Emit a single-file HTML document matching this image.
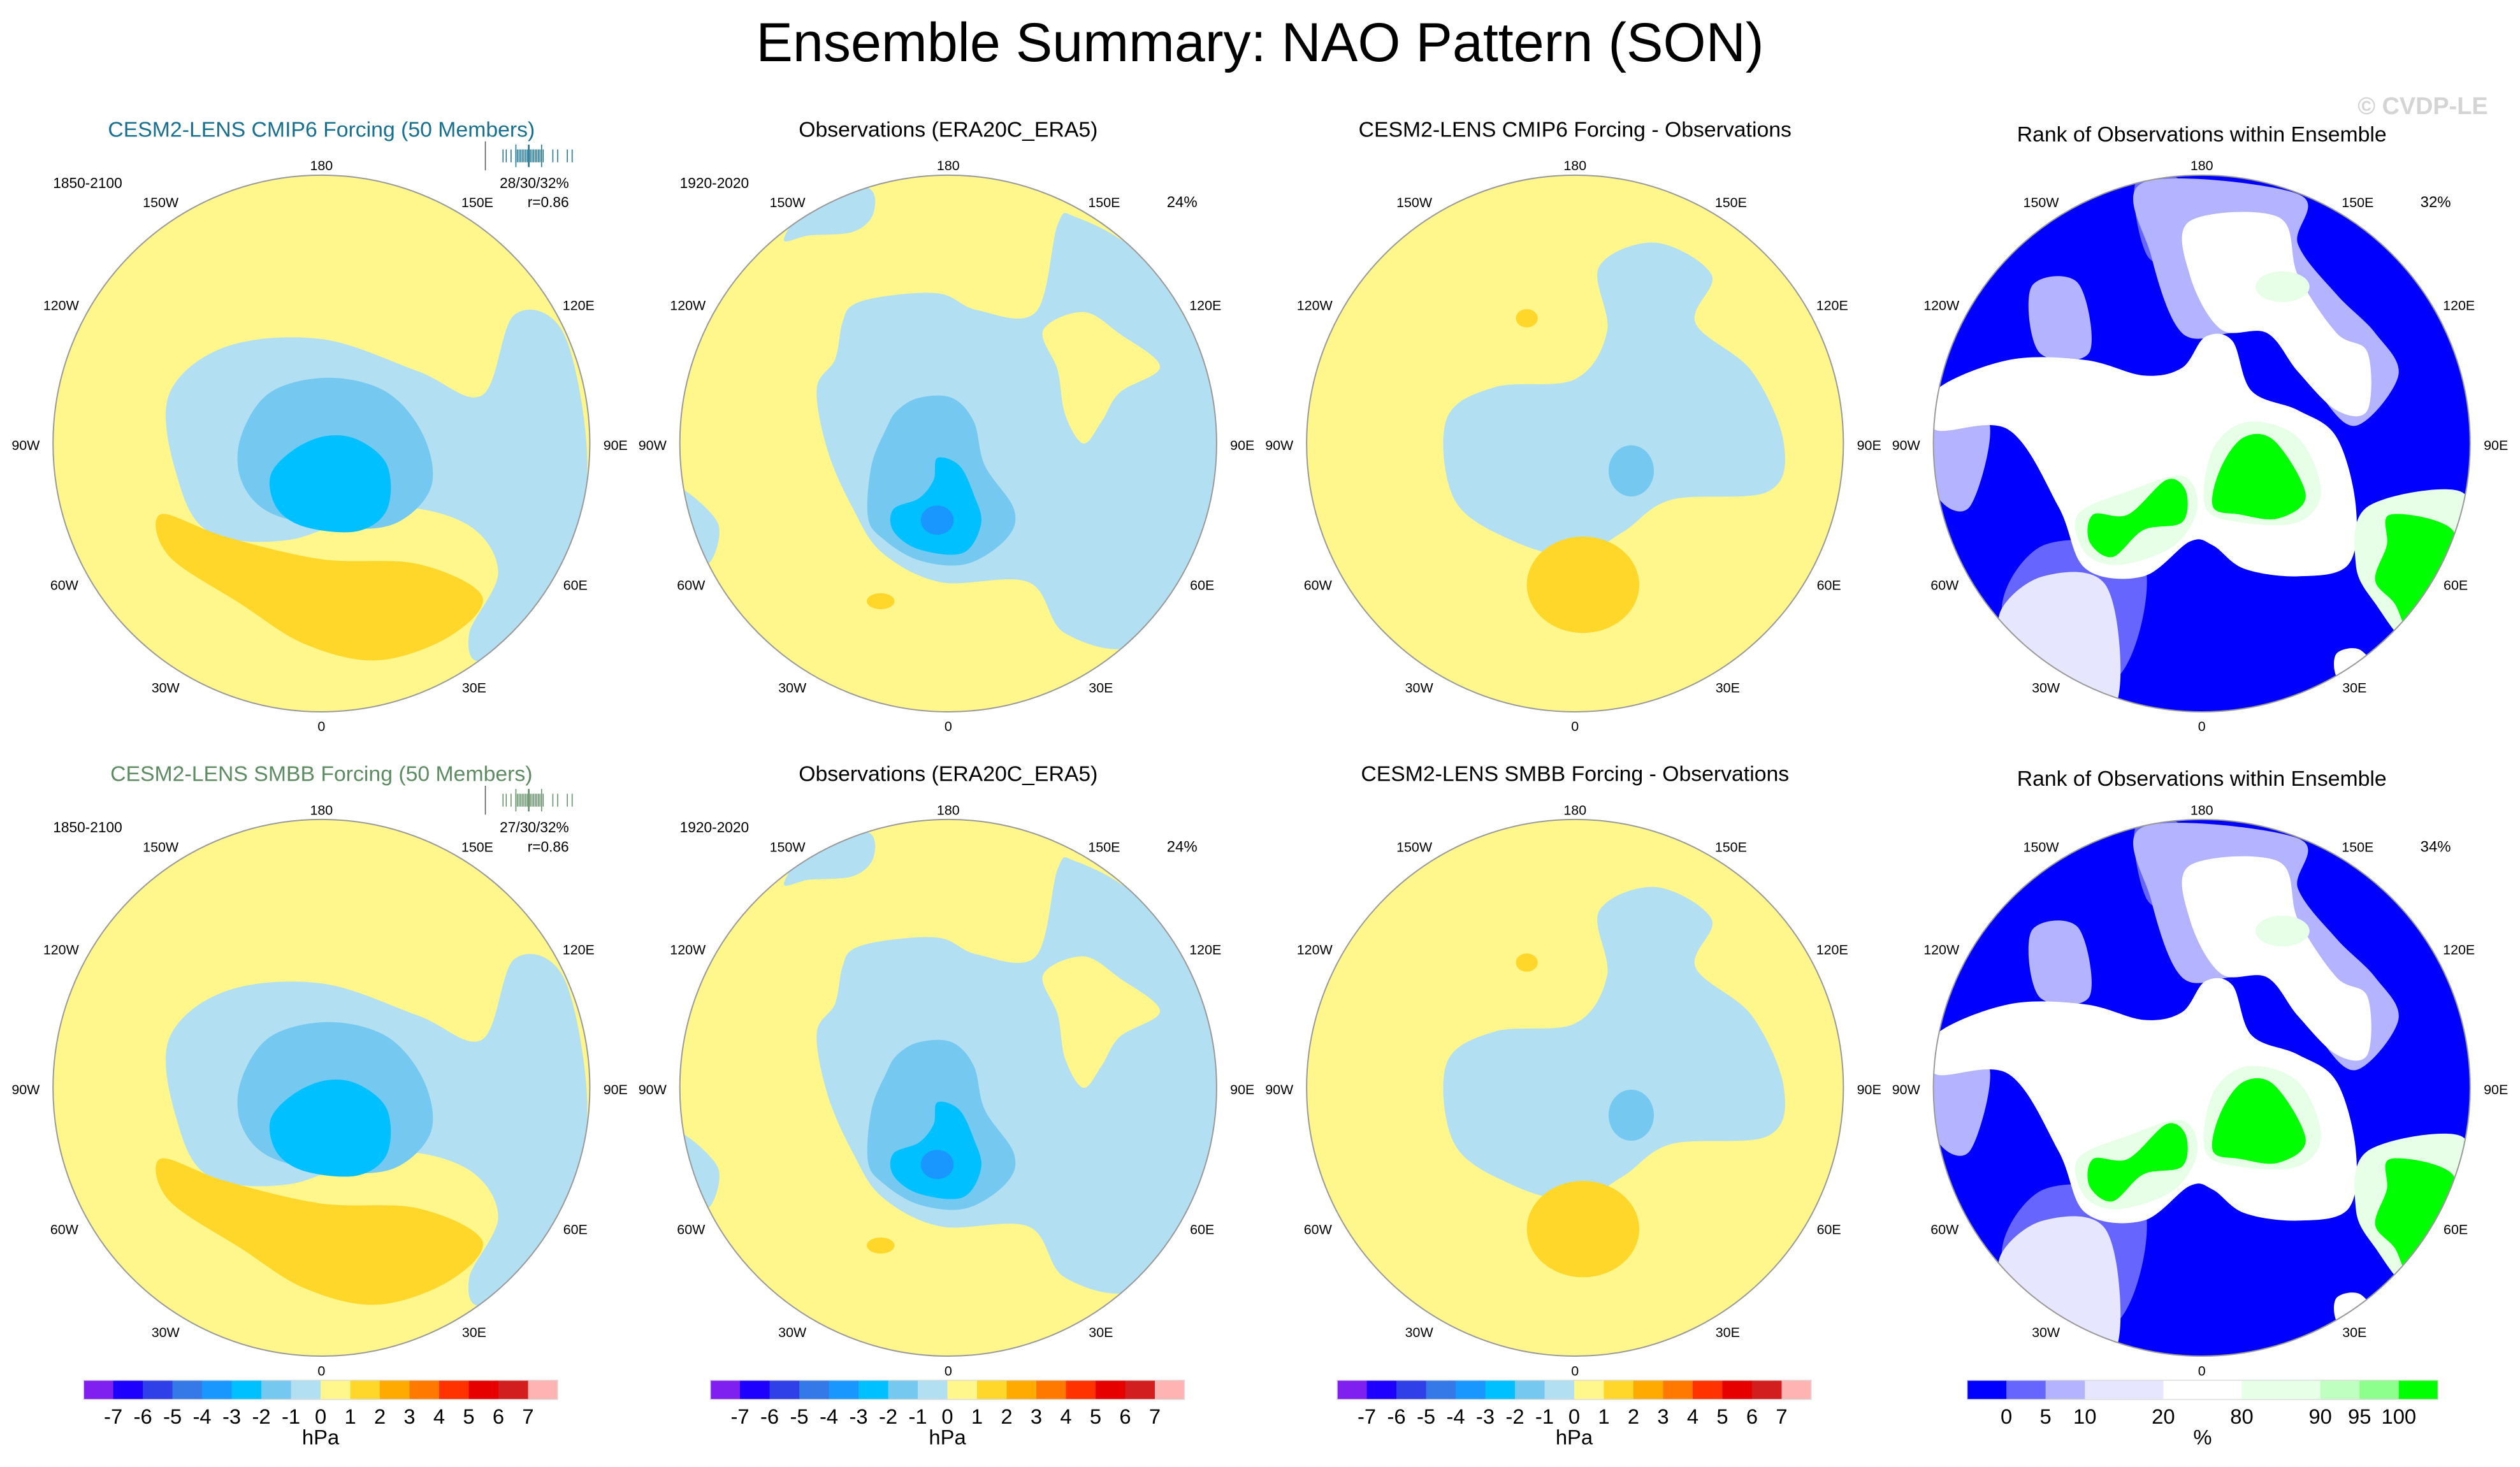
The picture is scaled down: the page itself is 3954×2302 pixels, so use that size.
<!DOCTYPE html>
<html><head><meta charset="utf-8"><style>
html,body{margin:0;padding:0;background:#fff;}
svg{display:block;font-family:"Liberation Sans",sans-serif;}
</style></head><body>
<svg id="fig" width="3954" height="2302" viewBox="0 0 1568 913" preserveAspectRatio="none" xmlns="http://www.w3.org/2000/svg">
<text x="784" y="38" font-size="34.2" text-anchor="middle">Ensemble Summary: NAO Pattern (SON)</text>
<text x="1548" y="71" font-size="15" font-weight="bold" fill="#d4d4d4" text-anchor="end">© CVDP-LE</text>
<g id="panels"></g>
</svg>
<script>
// colour-bar data
const pslLabels = ["-7","-6","-5","-4","-3","-2","-1","0","1","2","3","4","5","6","7"];
const pslColors = ["#8020F0","#1E00FF","#3040E8","#3578E8","#1A96FF","#00C0FF","#75C8F0","#B3DFF2","#FFF68C","#FFD62A","#FFAA00","#FF7800","#FF3200","#E60000","#D21E1E","#FFB3B3"];
const rankLabels = ["0","5","10","20","80","90","95","100"];
const rankColors = ["#0000FF","#6666FF","#B3B3FF","#E6E6FF","#FFFFFF","#E6FFE6","#BFFFBF","#8CFF8C","#00FF00"];
const rankBoxWeights = [1,1,1,2,2,2,1,1,1];

const NS="http://www.w3.org/2000/svg";
const root=document.getElementById('panels');
function mk(tag,attrs,parent){const e=document.createElementNS(NS,tag);for(const k in attrs)e.setAttribute(k,attrs[k]);(parent||root).appendChild(e);return e;}
function smooth(pts){let d="";const n=pts.length;for(let i=0;i<n;i++){const p0=pts[(i-1+n)%n],p1=pts[i],p2=pts[(i+1)%n],p3=pts[(i+2)%n];if(i===0)d+="M"+p1[0]+","+p1[1];const c1=[p1[0]+(p2[0]-p0[0])/6,p1[1]+(p2[1]-p0[1])/6],c2=[p2[0]-(p3[0]-p1[0])/6,p2[1]-(p3[1]-p1[1])/6];d+="C"+c1+" "+c2+" "+p2;}return d+"Z";}
const P4=(pts)=>pts.map(p=>[(p[0]-751)*1.0576+780,(p[1]-736)*1.0576+780]);
const shapesModel=[
 {c:"#B3DFF2",p:[[362,648],[516,516],[780,494],[1044,582],[1220,648],[1308,428],[1440,472],[1506,780],[1484,1044],[1396,1220],[1220,1374],[1185,1299],[1264,1132],[1176,1000],[956,956],[692,1044],[472,1022],[384,868]]},
 {c:"#75C8F0",p:[[560,760],[640,640],[800,600],[960,640],[1060,760],[1080,900],[980,1000],[820,1010],[640,970],[560,880]]},
 {c:"#00C0FF",p:[[640,870],[700,800],[790,760],[880,770],[960,840],[960,960],[880,1020],[740,1010],[660,960]]},
 {c:"#FFD62A",p:[[340,974],[516,1035],[780,1097],[1044,1110],[1220,1198],[1132,1308],[934,1374],[736,1330],[560,1220],[362,1088]]}];
const shapesObs=[
 {c:"#B3DFF2",p:[[490,450],[520,400],[620,375],[760,370],[860,415],[1020,420],[1080,180],[1130,160],[1300,260],[1450,480],[1530,780],[1460,1100],[1300,1330],[1100,1300],[1000,1160],[760,1160],[600,1080],[520,960],[450,800],[420,630],[470,550]]},
 {c:"#B3DFF2",p:[[420,100],[560,80],[575,150],[520,200],[400,210],[330,220]]},
 {c:"#B3DFF2",p:[[40,900],[150,1000],[120,1110],[60,1000]]},
 {c:"#FFF68C",p:[[1040,470],[1150,420],[1250,480],[1360,570],[1250,640],[1200,720],[1150,780],[1100,700],[1080,580]]},
 {c:"#75C8F0",p:[[640,690],[700,655],[790,655],[850,720],[880,840],[960,960],[940,1040],[830,1110],[700,1100],[600,1040],[560,980],[570,840],[610,740]]},
 {c:"#00C0FF",p:[[750,820],[810,840],[850,920],[870,1000],[820,1080],[700,1070],[630,1020],[630,960],[700,930],[740,880]]},
 {c:"#1A96FF",e:[750,990,45,40]},
 {c:"#FFD62A",e:[595,1212,38,22]}];
const shapesDiff=[
 {c:"#B3DFF2",p:[[428,714],[560,626],[780,604],[868,472],[846,296],[1000,230],[1154,318],[1110,450],[1264,582],[1352,780],[1308,912],[1044,934],[912,1022],[780,1088],[604,1044],[450,934]]},
 {c:"#75C8F0",e:[934,855,62,70]},
 {c:"#FFD62A",e:[802,1167,154,132]},
 {c:"#FFD62A",e:[648,437,30,25]}];
const shapesRank=[
 {c:"#6666FF",p:P4([[580,60],[700,60],[700,250],[610,250]])},
 {c:"#B3B3FF",p:P4([[600,60],[1000,90],[1000,220],[1100,350],[1200,450],[1260,560],[1150,690],[1050,600],[950,450],[830,450],[700,450],[620,250]])},
 {c:"#B3B3FF",p:P4([[310,330],[430,320],[460,500],[330,500]])},
 {c:"#6666FF",p:P4([[340,1000],[600,1040],[520,1350],[240,1200]])},
 {c:"#B3B3FF",p:P4([[60,660],[200,680],[150,900],[60,860]])},
 {c:"#E6E6FF",p:P4([[230,1170],[340,1080],[500,1100],[540,1350],[480,1480],[330,1380],[250,1280]])},
 {c:"#FFFFFF",p:P4([[60,600],[250,520],[450,520],[600,560],[700,540],[760,460],[830,470],[880,600],[1000,650],[1100,720],[1150,900],[1130,1050],[1000,1080],[860,1060],[780,1000],[720,990],[600,1080],[450,1060],[380,900],[250,700],[60,700]])},
 {c:"#FFFFFF",p:P4([[720,160],[950,150],[1000,300],[1100,450],[1180,500],[1180,650],[1100,650],[1000,550],[920,450],[800,440],[720,300]])},
 {c:"#E6FFE6",e:P4([[960,330]])[0].concat([74,42])},
 {c:"#E6FFE6",p:P4([[430,920],[560,860],[700,820],[740,900],[680,1000],[540,1050],[450,1020]])},
 {c:"#E6FFE6",p:P4([[780,750],[870,680],[1000,720],[1060,860],[1000,940],[850,940],[760,900]])},
 {c:"#00FF00",p:P4([[470,920],[560,920],[660,830],[710,860],[700,940],[600,960],[520,1030],[460,990]])},
 {c:"#00FF00",p:P4([[800,800],[860,720],[940,730],[1020,870],[950,930],[850,920],[780,900]])},
 {c:"#E6FFE6",p:P4([[1180,900],[1420,860],[1440,1000],[1390,1150],[1300,1260],[1200,1150],[1150,1050]])},
 {c:"#00FF00",p:P4([[1240,920],[1400,960],[1390,1100],[1300,1230],[1250,1150],[1200,1090],[1230,1000]])},
 {c:"#FFFFFF",p:P4([[1100,1280],[1160,1270],[1200,1330],[1150,1370],[1100,1340]])}];

const colsX=[200,590,980,1370], rowsY=[276,677], R=167;
const titles=[["CESM2-LENS CMIP6 Forcing (50 Members)","Observations (ERA20C_ERA5)","CESM2-LENS CMIP6 Forcing - Observations","Rank of Observations within Ensemble"],
 ["CESM2-LENS SMBB Forcing (50 Members)","Observations (ERA20C_ERA5)","CESM2-LENS SMBB Forcing - Observations","Rank of Observations within Ensemble"]];
const titleColors=[["#17708F","#000","#000","#000"],["#5E8C62","#000","#000","#000"]];
const lonLabels=[["180",0,-173],["150W",-100,-150],["150E",97,-150],["120W",-162,-86],["120E",160,-86],["90W",-184,1],["90E",183,1],["60W",-160,88],["60E",158,88],["30W",-97,152],["30E",95,152],["0",0,176]];
const shapeSets=[shapesModel,shapesObs,shapesDiff,shapesRank];
const bgs=["#FFF68C","#FFF68C","#FFF68C","#0000FF"];

for(let r=0;r<2;r++)for(let c=0;c<4;c++){
 const cx=colsX[c],cy=rowsY[r];
 const g=mk('g',{});
 
 
 const t=mk('text',{x:cx,y:(c===3?cy-188:cy-191),'font-size':13.4,'text-anchor':'middle',fill:titleColors[r][c]},g);
 t.textContent=titles[r][c];
 
 
 const cid='clip'+r+c;
 const cp=mk('clipPath',{id:cid},g);mk('circle',{cx:cx,cy:cy,r:R},cp);
 const mg=mk('g',{'clip-path':'url(#'+cid+')'},g);
 const bg=mk('circle',{cx:cx,cy:cy,r:R,fill:bgs[c]},mg);
 
 
 const sg=mk('g',{transform:'translate('+cx+','+cy+') scale('+(R/735)+') translate(-780,-780)'},mg);
 for(const s of shapeSets[c]){
  let el;
  if(s.e) el=mk('ellipse',{cx:s.e[0],cy:s.e[1],rx:s.e[2],ry:s.e[3],fill:s.c},sg);
  else el=mk('path',{d:smooth(s.p),fill:s.c},sg);
  
  
 }
 const ring=mk('circle',{cx:cx,cy:cy,r:R,fill:'none',stroke:'#999','stroke-width':0.8},g);
 
 
 for(const L of lonLabels){const lt=mk('text',{x:cx+L[1],y:cy+L[2]+3,'font-size':8.5,'text-anchor':'middle'},g);lt.textContent=L[0];
  
  }
 if(c===0||c===1){const yt=mk('text',{x:cx-167,y:cy-159,'font-size':9},g);yt.textContent=(c===0?"1850-2100":"1920-2020");
  
  }
 if(c===1||c===3){const pt=mk('text',{x:cx+155,y:cy-147,'font-size':9.5,'text-anchor':'end'},g);pt.textContent=(c===1?"24%":(r===0?"32%":"34%"));
  
  }
 if(c===0){
  const a=mk('text',{x:cx+154,y:cy-159,'font-size':9,'text-anchor':'end'},g);a.textContent=(r===0?"28/30/32%":"27/30/32%");
  
  
  const b=mk('text',{x:cx+154,y:cy-147,'font-size':9,'text-anchor':'end'},g);b.textContent="r=0.86";
  
  
  const rug=mk('g',{stroke:(r===0?'#17708F':'#5E8C62'),'stroke-width':0.6},g);
  
  
  mk('line',{x1:cx+102,y1:cy-188,x2:cx+102,y2:cy-170,stroke:'#555'},rug);
  const tx=[113,115,118,121,122,123,124,125,126,127,128,129,130,131,132,133,134,135,136,137,138,144,147,153,156];
  for(const x of tx) mk('line',{x1:cx+x,y1:cy-183,x2:cx+x,y2:cy-175},rug);
  mk('line',{x1:cx+129,y1:cy-186,x2:cx+129,y2:cy-172,'stroke-width':1},rug);
  mk('line',{x1:cx+121,y1:cy-186,x2:cx+121,y2:cy-172},rug);
  mk('line',{x1:cx+137,y1:cy-186,x2:cx+137,y2:cy-172},rug);
 }
}

function colorbar(x0,x1,colors,weights,labels,unit,name){
 const g=mk('g',{});
 
 
 const tot=weights.reduce((a,b)=>a+b,0);let x=x0;const bounds=[];
 for(let i=0;i<colors.length;i++){const w=(x1-x0)*weights[i]/tot;const rc=mk('rect',{x:x,y:859,width:w+0.2,height:12,fill:colors[i]},g);
  
  
  x+=w;if(i<colors.length-1)bounds.push(x);}
 mk('rect',{x:x0,y:859,width:x1-x0,height:12,fill:'none',stroke:'#ddd','stroke-width':0.6},g);
 labels.forEach((L,i)=>{const t=mk('text',{x:bounds[i],y:886,'font-size':13,'text-anchor':'middle'},g);t.textContent=L;
  
  });
 const u=mk('text',{x:(x0+x1)/2,y:899,'font-size':13,'text-anchor':'middle'},g);u.textContent=unit;
 
 
}
const ones=pslColors.map(()=>1);
colorbar(52,347,pslColors,ones,pslLabels,"hPa","colorbar-psl-1");
colorbar(442,737,pslColors,ones,pslLabels,"hPa","colorbar-psl-2");
colorbar(832,1127,pslColors,ones,pslLabels,"hPa","colorbar-psl-3");
colorbar(1224,1517,rankColors,rankBoxWeights,rankLabels,"%","colorbar-rank");
</script>
</body></html>
